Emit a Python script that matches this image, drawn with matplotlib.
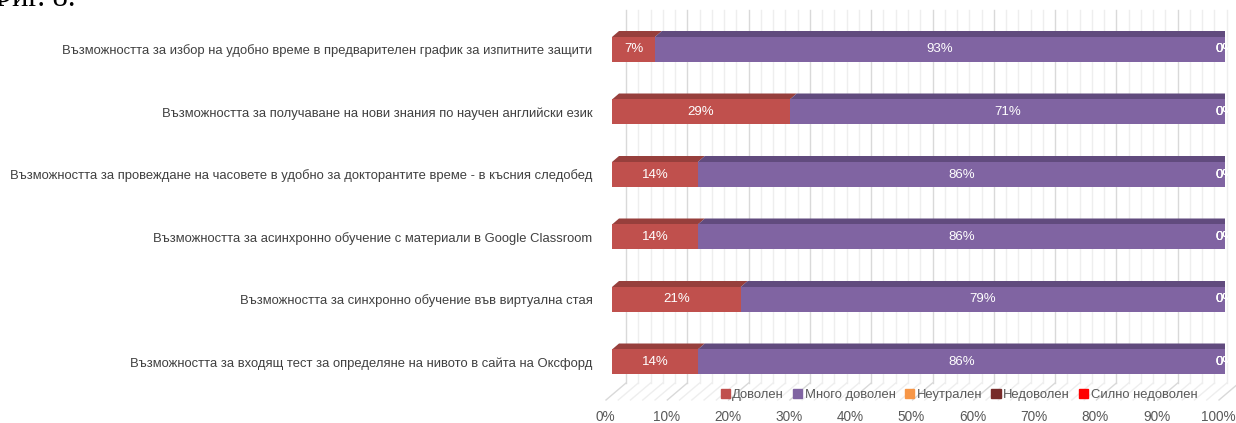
import matplotlib
matplotlib.use('Agg')
import matplotlib.pyplot as plt
from matplotlib.patches import Polygon, Patch
from matplotlib.transforms import ScaledTranslation

plt.rcParams['font.family'] = ['Liberation Sans', 'DejaVu Sans']

# данни
questions = [
    'Възможността за избор на удобно време в предварителен график за изпитните защити',
    'Възможността за получаване на нови знания по научен английски език',
    'Възможността за провеждане на часовете в удобно за докторантите време - в късния следобед',
    'Възможността за асинхронно обучение с материали в Google Classroom',
    'Възможността за синхронно обучение във виртуална стая',
    'Възможността за входящ тест за определяне на нивото в сайта на Оксфорд',
]
series = ['Доволен', 'Много доволен', 'Неутрален', 'Недоволен', 'Силно недоволен']
dovolen = [7, 29, 14, 14, 21, 14]
mnogo_dovolen = [93, 71, 86, 86, 79, 86]
neutralen = [0, 0, 0, 0, 0, 0]
nedovolen = [0, 0, 0, 0, 0, 0]
silno_nedovolen = [0, 0, 0, 0, 0, 0]
values = [dovolen, mnogo_dovolen, neutralen, nedovolen, silno_nedovolen]
xticks = [0, 10, 20, 30, 40, 50, 60, 70, 80, 90, 100]

colors = ['#C0504D', '#8064A2', '#F79646', '#772C2A', '#FF0000']
tops = ['#973F3C', '#614B7E', '#C5763A', '#5A211F', '#C00000']
sides = ['#A04340', '#6A5388', '#D37F3C', '#641F1D', '#C00000']

W, H = 1236, 423
fig = plt.figure(figsize=(W / 100, H / 100), dpi=100)

# оси: x 0..100 -> 612..1225 px, y редове
row0, step = 49.5, 62.5
y_bottom_px = 400
ax = fig.add_axes([612 / W, 1 - y_bottom_px / H, 613 / W, y_bottom_px / H])
ax.set_xlim(0, 100)
ax.set_ylim((y_bottom_px - row0) / step, -row0 / step)
for s in ax.spines.values():
    s.set_visible(False)

px_x = 100 / 613  # един пиксел в % по x
px_y = 1 / step   # един пиксел в редове

# задна стена и под
depth_x, y_wall_top, y_floor_back = 14 * px_x, (10 - row0) / step, (383 - row0) / step
y_floor_front = (y_bottom_px - row0) / step
for v in range(0, 101, 2):
    c = '#D9D9D9' if v % 10 == 0 else '#EEEEEE'
    xb = v + depth_x
    ax.plot([xb, xb], [y_wall_top, y_floor_back], color=c, lw=1, zorder=0, clip_on=False)
    ax.plot([xb, v - 6 * px_x], [y_floor_back, y_floor_front], color=c, lw=1, zorder=0, clip_on=False)

# 3D ленти
bh = 25 * px_y
dx, dy = 7 * px_x, 6 * px_y
n = len(questions)
for i in range(n):
    left = 0
    yt = i - bh / 2
    for k, vals in enumerate(values):
        w = vals[i]
        ax.barh(i, w, left=left, height=bh, color=colors[k], zorder=3)
        ax.add_patch(Polygon([(left, yt), (left + w, yt), (left + w + dx, yt - dy), (left + dx, yt - dy)],
                             closed=True, color=tops[k], zorder=2, lw=0))
        ax.text(left + w / 2, i, f'{w}%', color='white', ha='center', va='center', fontsize=9.5, zorder=5)
        left += w
    # страничната стена на последния сегмент
    ax.add_patch(Polygon([(left, i + bh / 2), (left, yt), (left + dx, yt - dy), (left + dx, i + bh / 2 - dy)],
                         closed=True, color=sides[-1], zorder=4, lw=0))

ax.set_yticks(range(n))
ax.set_yticklabels(questions, fontsize=9.4, color='#404040')
ax.tick_params(axis='y', length=0, pad=14)
ax.set_xticks(xticks)
ax.set_xticklabels([f'{v}%' for v in xticks], fontsize=9.8, color='#595959')
ax.tick_params(axis='x', length=0, pad=7)
for lab in ax.get_xticklabels():
    lab.set_transform(lab.get_transform() + ScaledTranslation(-7 / 100, 0, fig.dpi_scale_trans))

handles = [Patch(color=c, label=s) for c, s in zip(colors, series)]
fig.legend(handles=handles, loc='center', bbox_to_anchor=(959 / W, 1 - 395 / H), ncol=5,
           frameon=False, fontsize=9.4, handlelength=0.7, handleheight=0.7, handletextpad=0.2,
           columnspacing=0.7, labelcolor='#595959')

fig.text(76 / W, 1 - 6 / H, 'Фиг. 8.', ha='right', va='baseline', fontsize=22,
         family=['Liberation Serif', 'DejaVu Serif'])

fig.savefig('out.png', dpi=100)
